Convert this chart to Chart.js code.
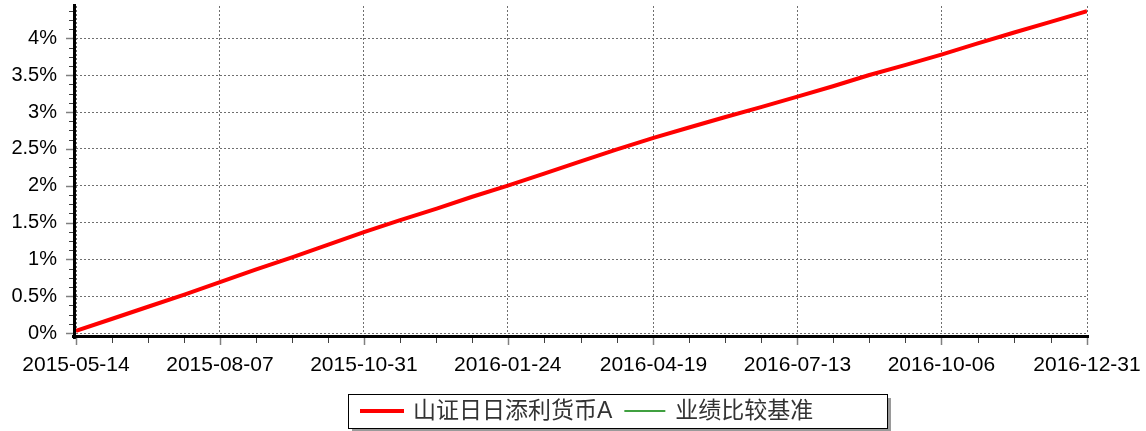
<!DOCTYPE html>
<html>
<head>
<meta charset="utf-8">
<script src="https://cdn.jsdelivr.net/npm/chart.js@4/dist/chart.umd.min.js"></script>
<style>
  html, body { margin: 0; padding: 0; background: #fff; }
  #wrap { width: 1146px; height: 431px; position: relative; }
</style>
</head>
<body>
<div id="wrap"><canvas id="c" width="1146" height="431"></canvas></div>
<script>
// ---- data ----
const seriesNames = ['山证日日添利货币A', '业绩比较基准'];
const tickDates = ['2015-05-14','2015-08-07','2015-10-31','2016-01-24','2016-04-19','2016-07-13','2016-10-06','2016-12-31'];
const tickDays = [0, 85, 170, 255, 341, 426, 511, 597];   // days since 2015-05-14
const yTickValues = [0, 0.5, 1, 1.5, 2, 2.5, 3, 3.5, 4];  // percent
const fundDays = [0, 21, 43, 64, 85, 106, 128, 149, 170, 191, 213, 234, 255, 276, 298, 319, 341, 362, 383, 405, 426, 447, 468, 490, 511, 532, 554, 575, 597];
const fundReturns = [0.03, 0.19, 0.36, 0.52, 0.69, 0.86, 1.03, 1.20, 1.37, 1.53, 1.69, 1.85, 2.00, 2.16, 2.33, 2.49, 2.65, 2.79, 2.93, 3.07, 3.21, 3.35, 3.50, 3.64, 3.78, 3.93, 4.08, 4.22, 4.37];
const benchDays = [];
const benchReturns = [];

const FONT = "'Liberation Sans', Arial, sans-serif";
const CJK = "'Liberation Sans', 'Noto Sans CJK SC', sans-serif";

const axesPlugin = {
  id: 'axesDeco',
  afterDraw(chart) {
    const ctx = chart.ctx;
    const { left, right, top, bottom } = chart.chartArea;
    const xs = chart.scales.x, ys = chart.scales.y;
    ctx.save();
    // axis lines
    ctx.fillStyle = '#000';
    ctx.fillRect(left - 3, top - 2, 3, bottom + 6 - (top - 2));
    ctx.fillRect(left - 4, bottom + 2, right - left + 6, 3);
    // major ticks
    ctx.strokeStyle = '#808080';
    ctx.lineWidth = 1.5;
    yTickValues.forEach(v => {
      const p = Math.round(ys.getPixelForValue(v)) + 0.5;
      ctx.beginPath(); ctx.moveTo(left - 10, p); ctx.lineTo(left - 3, p); ctx.stroke();
    });
    tickDays.forEach(d => {
      const p = Math.round(xs.getPixelForValue(d)) + 0.5;
      ctx.beginPath(); ctx.moveTo(p, bottom + 5); ctx.lineTo(p, bottom + 12); ctx.stroke();
    });
    // minor ticks
    ctx.strokeStyle = '#404040';
    ctx.lineWidth = 1;
    const ystep = (yTickValues[1] - yTickValues[0]) / 4;
    for (let i = 0; i < yTickValues.length; i++) {
      for (let k = 1; k < 4; k++) {
        const v = yTickValues[i] + k * ystep;
        if (v > ys.max) break;
        const p = Math.round(ys.getPixelForValue(v)) + 0.5;
        ctx.beginPath(); ctx.moveTo(left - 7, p); ctx.lineTo(left - 3, p); ctx.stroke();
      }
    }
    for (let i = 0; i + 1 < tickDays.length; i++) {
      const a = tickDays[i], b = tickDays[i + 1];
      for (let k = 1; k < 4; k++) {
        const p = Math.round(xs.getPixelForValue(a + (b - a) * k / 4)) + 0.5;
        ctx.beginPath(); ctx.moveTo(p, bottom + 5); ctx.lineTo(p, bottom + 10); ctx.stroke();
      }
    }
    // legend box
    const bx = 348, by = 394, bw = 539, bh = 34;
    ctx.fillStyle = '#9a9a9a';
    ctx.fillRect(bx + 4, by + 4, bw, bh);
    ctx.fillStyle = '#fff';
    ctx.fillRect(bx, by, bw, bh);
    ctx.strokeStyle = '#000';
    ctx.lineWidth = 1;
    ctx.strokeRect(bx + 0.5, by + 0.5, bw, bh);
    const cy = by + bh / 2;
    ctx.font = "23px " + CJK;
    ctx.textBaseline = 'middle';
    ctx.textAlign = 'left';
    let x = bx + 12;
    chart.data.datasets.forEach((ds, i) => {
      ctx.strokeStyle = ds.borderColor;
      ctx.lineWidth = i === 0 ? 4 : 1.5;
      ctx.beginPath(); ctx.moveTo(x, cy); ctx.lineTo(x + (i === 0 ? 44 : 41), cy); ctx.stroke();
      x += i === 0 ? 53 : 51;
      ctx.fillStyle = '#333';
      ctx.fillText(ds.label, x, cy + 1);
      x += ctx.measureText(ds.label).width + 12;
    });
    ctx.restore();
  }
};

new Chart(document.getElementById('c'), {
  type: 'line',
  data: {
    datasets: [
      {
        label: seriesNames[0],
        data: fundDays.map((d, i) => ({ x: d, y: fundReturns[i] })),
        borderColor: '#ff0000',
        backgroundColor: '#ff0000',
        borderWidth: 4,
        pointRadius: 0,
        tension: 0,
        fill: false
      },
      {
        label: seriesNames[1],
        data: benchDays.map((d, i) => ({ x: d, y: benchReturns[i] })),
        borderColor: '#008000',
        backgroundColor: '#008000',
        borderWidth: 1.5,
        pointRadius: 0,
        fill: false
      }
    ]
  },
  options: {
    responsive: false,
    animation: false,
    devicePixelRatio: 1,
    layout: { padding: { left: 0, right: 59, top: 6, bottom: 0 } },
    plugins: { legend: { display: false }, tooltip: { enabled: false } },
    scales: {
      x: {
        type: 'linear',
        min: tickDays[0],
        max: tickDays[tickDays.length - 1],
        afterBuildTicks: s => { s.ticks = tickDays.map(v => ({ value: v })); },
        afterFit: s => { s.height = 98; s.paddingLeft = 0; s.paddingRight = 0; },
        border: { display: false, dash: [2, 2] },
        grid: { color: '#6f6f6f', lineWidth: 1, drawTicks: false },
        ticks: {
          autoSkip: false, maxRotation: 0, padding: 20, color: '#000',
          font: { family: FONT, size: 21 },
          callback: v => { const i = tickDays.indexOf(v); return i >= 0 ? tickDates[i] : ''; }
        }
      },
      y: {
        min: 0,
        max: 4.44,
        afterBuildTicks: s => { s.ticks = yTickValues.map(v => ({ value: v })); },
        afterFit: s => { s.width = 76; s.paddingTop = 0; s.paddingBottom = 0; },
        border: { display: false, dash: [2, 2] },
        grid: { color: '#6f6f6f', lineWidth: 1, drawTicks: false },
        ticks: {
          padding: 19, color: '#000',
          font: { family: FONT, size: 20 },
          callback: v => v + '%'
        }
      }
    }
  },
  plugins: [axesPlugin]
});
</script>
</body>
</html>
